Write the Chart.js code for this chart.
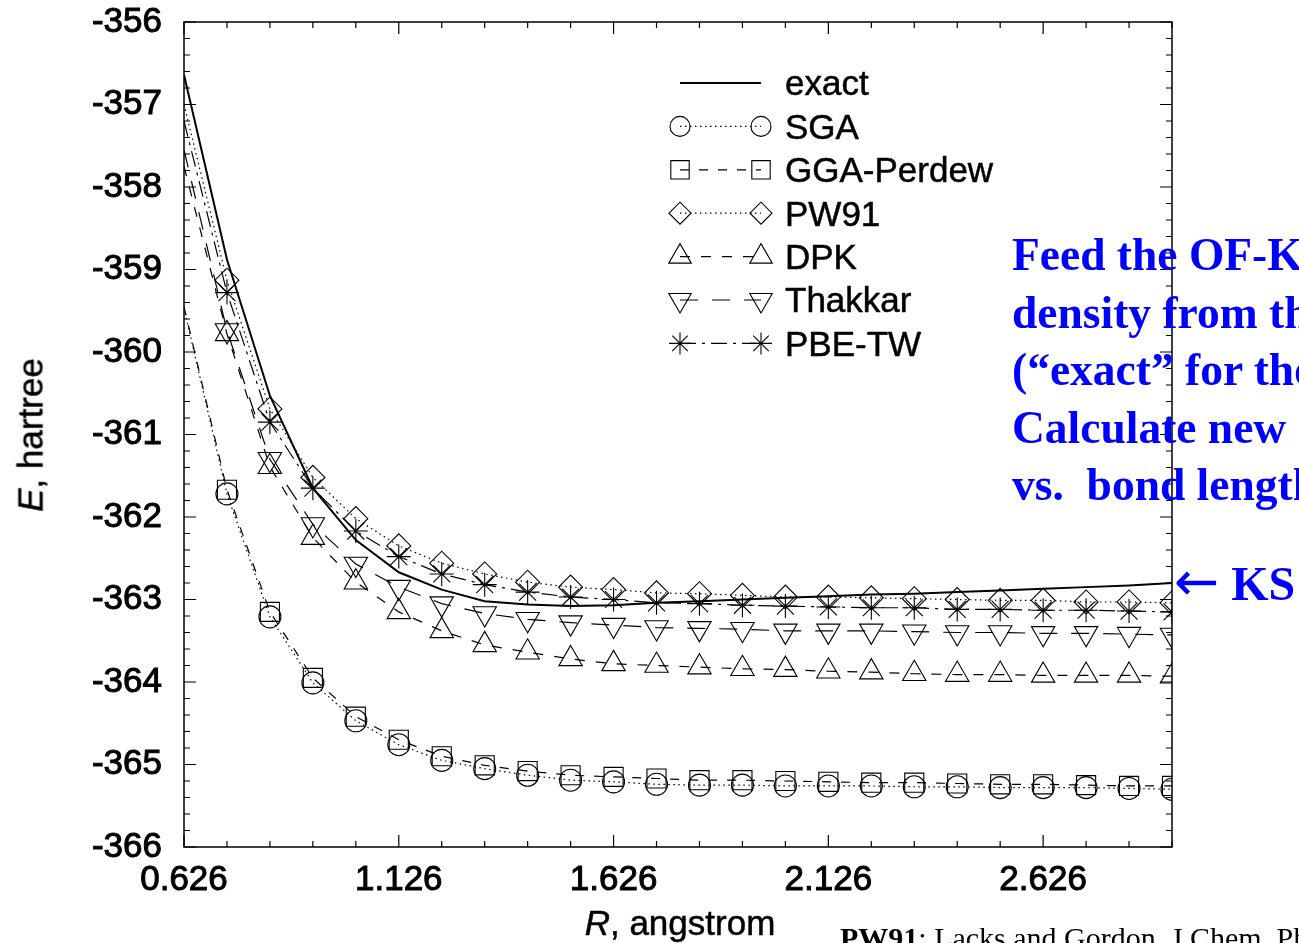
<!DOCTYPE html>
<html>
<head>
<meta charset="utf-8">
<script src="https://cdn.jsdelivr.net/npm/chart.js@4.4.1/dist/chart.umd.min.js"></script>
<style>
    html, body { margin: 0; padding: 0; background: #fff; overflow: hidden; width: 1299px; height: 943px; }
    #wrap { position: relative; width: 1299px; height: 943px; overflow: hidden; }
    #chart { position: absolute; left: 0; top: 0; }
    .txt { position: absolute; white-space: nowrap; font-family: "Liberation Sans", Arial, sans-serif; color: #000; font-size: 35px; line-height: 35px; -webkit-text-stroke: 0.5px #000; }
    .leg { left: 785px; }
    .blue { position: absolute; white-space: nowrap; font-family: "Liberation Serif", "Times New Roman", serif; font-weight: bold; color: #0000ff; }
</style>
</head>
<body>
<div id="wrap">
    <canvas id="chart" width="1299" height="943"></canvas>

    <div class="txt" style="left:30px; top:435px; transform: translate(-50%, -50%) rotate(-90deg);"><i>E</i>, hartree</div>
    <div class="txt" style="left:680px; top:905px; transform: translateX(-50%);"><i>R</i>, angstrom</div>

    <div class="txt leg" style="top:65px;">exact</div>
    <div class="txt leg" style="top:109px;">SGA</div>
    <div class="txt leg" style="top:152px;">GGA-Perdew</div>
    <div class="txt leg" style="top:196px;">PW91</div>
    <div class="txt leg" style="top:239px;">DPK</div>
    <div class="txt leg" style="top:282px;">Thakkar</div>
    <div class="txt leg" style="top:326px;">PBE-TW</div>

    <div class="blue" style="left:1012px; top:226px; font-size:45.5px; line-height:57.5px;">
        Feed the OF-KE functionals the<br>
        density from the KS calculation<br>
        (“exact” for the KS method)<br>
        Calculate new energies<br>
        vs.&nbsp; bond length
    </div>
    <div class="blue" style="left:1174px; top:558px; font-size:48px; line-height:48px;"><span style="font-family:'DejaVu Sans',sans-serif; font-weight:normal; font-size:54px;">←</span>&nbsp;KS</div>
    <div class="blue" style="left:840px; top:923px; font-size:30px; line-height:29px; font-weight:normal; color:#000;"><b>PW91</b>: Lacks and Gordon, J.Chem. Phys.</div>
</div>

<script>
// bond length R (angstrom); first point has no marker
const rValues = [0.626, 0.726, 0.826, 0.926, 1.026, 1.126, 1.226, 1.326, 1.426, 1.526, 1.626, 1.726,
                 1.826, 1.926, 2.026, 2.126, 2.226, 2.326, 2.426, 2.526, 2.626, 2.726, 2.826, 2.926];

const exact = [-356.64, -358.88, -360.53, -361.65, -362.28, -362.67, -362.88, -363.02, -363.06, -363.08, -363.07, -363.04,
               -363.02, -363.00, -362.98, -362.96, -362.94, -362.93, -362.91, -362.89, -362.87, -362.85, -362.83, -362.80];
const sga = [-359.47, -361.72, -363.21, -364.01, -364.47, -364.76, -364.95, -365.05, -365.13, -365.19, -365.21, -365.24,
             -365.25, -365.25, -365.26, -365.26, -365.26, -365.27, -365.27, -365.28, -365.28, -365.28, -365.29, -365.30];
const ggaPerdew = [-359.45, -361.67, -363.15, -363.95, -364.42, -364.70, -364.90, -365.01, -365.08, -365.13, -365.15, -365.17,
                   -365.19, -365.19, -365.20, -365.21, -365.22, -365.22, -365.23, -365.24, -365.24, -365.25, -365.26, -365.26];
const pw91 = [-357.00, -359.13, -360.69, -361.52, -362.02, -362.35, -362.56, -362.69, -362.79, -362.85, -362.88, -362.92,
              -362.93, -362.95, -362.97, -362.97, -362.98, -362.99, -363.00, -363.01, -363.01, -363.03, -363.03, -363.04];
const dpk = [-357.75, -359.78, -361.39, -362.25, -362.79, -363.15, -363.38, -363.55, -363.64, -363.72, -363.78, -363.80,
             -363.82, -363.84, -363.85, -363.87, -363.88, -363.90, -363.91, -363.91, -363.92, -363.92, -363.92, -363.93];
const thakkar = [-357.55, -359.74, -361.30, -362.09, -362.57, -362.85, -363.05, -363.17, -363.24, -363.28, -363.31, -363.34,
                 -363.35, -363.36, -363.38, -363.38, -363.38, -363.39, -363.40, -363.40, -363.41, -363.41, -363.42, -363.43];
const pbeTw = [-357.20, -359.28, -360.85, -361.65, -362.17, -362.48, -362.69, -362.82, -362.91, -362.97, -363.00, -363.04,
               -363.05, -363.07, -363.08, -363.09, -363.10, -363.10, -363.12, -363.12, -363.13, -363.13, -363.14, -363.15];

const xTicks = [0.626, 1.126, 1.626, 2.126, 2.626];
const yTicks = [-366, -365, -364, -363, -362, -361, -360, -359, -358, -357, -356];

const pts = ys => ys.map((v, i) => ({ x: rValues[i], y: v }));
const marks = r => rValues.map((_, i) => (i === 0 ? 0 : r));

function series(label, ys, style) {
    return Object.assign({
        label: label,
        data: pts(ys),
        borderColor: "#000",
        borderWidth: 1.2,
        tension: 0,
        pointBorderColor: "#000",
        pointBackgroundColor: "rgba(0,0,0,0)",
        pointBorderWidth: 1.1,
    }, style);
}

// box round the plot with inward ticks, plus the legend samples
const framePlugin = {
    id: "frame",
    afterDatasetsDraw(chart) {
        const { ctx, chartArea: a, scales } = chart;
        const xs = scales.x, ys = scales.y;
        ctx.save();
        ctx.strokeStyle = "#000";
        ctx.setLineDash([]);
        ctx.lineWidth = 1.5;
        ctx.strokeRect(a.left, a.top, a.right - a.left, a.bottom - a.top);

        ctx.lineWidth = 1.2;
        ctx.beginPath();
        for (let k = 0; k <= 50; k++) {
            const py = ys.getPixelForValue(-366 + k * 0.2);
            const len = k % 5 === 0 ? 12 : 6;
            ctx.moveTo(a.left, py); ctx.lineTo(a.left + len, py);
            ctx.moveTo(a.right, py); ctx.lineTo(a.right - len, py);
        }
        for (let k = 0; k <= 23; k++) {
            const px = xs.getPixelForValue(0.626 + k * 0.1);
            const len = k % 5 === 0 ? 12 : 6;
            ctx.moveTo(px, a.bottom); ctx.lineTo(px, a.bottom - len);
            ctx.moveTo(px, a.top); ctx.lineTo(px, a.top + len);
        }
        ctx.stroke();

        // legend samples
        const lx1 = 680, lx2 = 761, ly0 = 83, ldy = 43.4;
        chart.data.datasets.forEach((ds, i) => {
            const yy = ly0 + i * ldy;
            ctx.setLineDash(ds.borderDash || []);
            ctx.lineWidth = ds.borderWidth;
            ctx.beginPath();
            ctx.moveTo(lx1, yy);
            ctx.lineTo(lx2, yy);
            ctx.stroke();
            if (ds.pointStyle) {
                ctx.setLineDash([]);
                ctx.lineWidth = 1.1;
                ctx.fillStyle = "rgba(0,0,0,0)";
                const opts = { pointStyle: ds.pointStyle, rotation: ds.pointRotation || 0, radius: ds.legendRadius, borderWidth: 1 };
                Chart.helpers.drawPoint(ctx, opts, lx1, yy);
                Chart.helpers.drawPoint(ctx, opts, lx2, yy);
            }
        });
        ctx.restore();
    }
};

const tickFont = { family: "'Liberation Sans', Arial, sans-serif", size: 35 };

new Chart(document.getElementById("chart"), {
    type: "line",
    data: {
        datasets: [
            series("exact", exact, { borderWidth: 2, pointRadius: 0 }),
            series("SGA", sga, { borderDash: [1.5, 3.5], pointStyle: "circle", pointRadius: marks(11), legendRadius: 10 }),
            series("GGA-Perdew", ggaPerdew, { borderDash: [9, 10], pointStyle: "rect", pointRadius: marks(13.5), legendRadius: 13 }),
            series("PW91", pw91, { borderDash: [1.5, 3.5], pointStyle: "rectRot", pointRadius: marks(12), legendRadius: 11 }),
            series("DPK", dpk, { borderDash: [10, 11], pointStyle: "triangle", pointRadius: marks(13.5), legendRadius: 13 }),
            series("Thakkar", thakkar, { borderDash: [18, 14], pointStyle: "triangle", pointRotation: 180, pointRadius: marks(13.5), legendRadius: 13 }),
            series("PBE-TW", pbeTw, { borderDash: [16, 6, 3, 6], pointStyle: "star", pointRadius: marks(12), legendRadius: 11 }),
        ]
    },
    options: {
        responsive: false,
        animation: false,
        devicePixelRatio: 1,
        layout: { padding: { top: 22, right: 127, left: 0, bottom: 0 } },
        plugins: { legend: { display: false }, tooltip: { enabled: false } },
        scales: {
            x: {
                type: "linear",
                min: 0.626,
                max: 2.926,
                afterBuildTicks: s => { s.ticks = xTicks.map(v => ({ value: v })); },
                afterFit: s => { s.height = 96; s.paddingLeft = 0; s.paddingRight = 0; },
                grid: { display: false, drawTicks: false },
                border: { display: false },
                ticks: { color: "#000", font: tickFont, padding: 12, maxRotation: 0, autoSkip: false,
                         textStrokeColor: "#000", textStrokeWidth: 1, callback: v => v.toFixed(3) }
            },
            y: {
                type: "linear",
                min: -366,
                max: -356,
                afterBuildTicks: s => { s.ticks = yTicks.map(v => ({ value: v })); },
                afterFit: s => { s.width = 184; s.paddingTop = 0; s.paddingBottom = 0; },
                grid: { display: false, drawTicks: false },
                border: { display: false },
                ticks: { color: "#000", font: tickFont, padding: 22,
                         textStrokeColor: "#000", textStrokeWidth: 1, callback: v => String(v) }
            }
        }
    },
    plugins: [framePlugin]
});
</script>
</body>
</html>
